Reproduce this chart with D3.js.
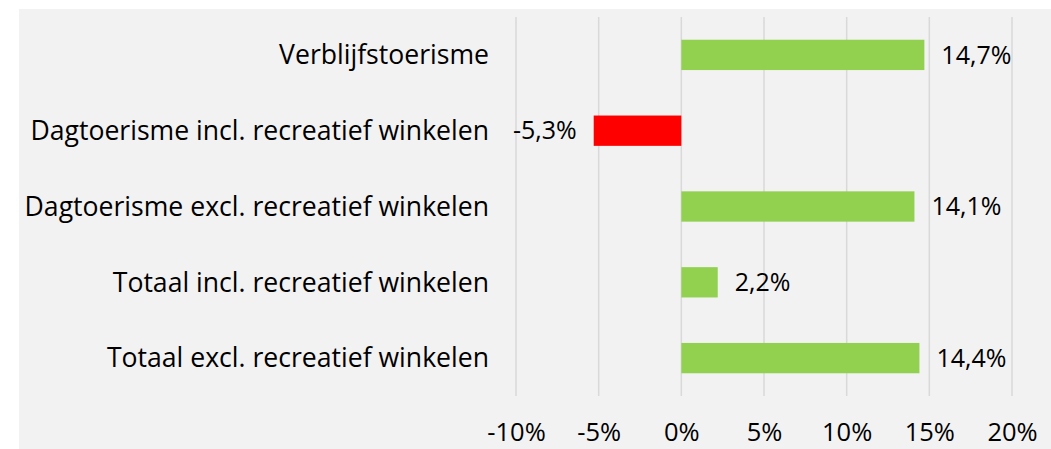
<!DOCTYPE html>
<html>
<head>
<meta charset="utf-8">
<script src="https://cdn.jsdelivr.net/npm/d3@7"></script>
<style>
  body { margin: 0; background: #ffffff; }
  svg { display: block; font-family: "Open Sans", sans-serif; }
</style>
</head>
<body>
<div id="chart"></div>
<script>
// chart data
const categories = [
  'Verblijfstoerisme',
  'Dagtoerisme incl. recreatief winkelen',
  'Dagtoerisme excl. recreatief winkelen',
  'Totaal incl. recreatief winkelen',
  'Totaal excl. recreatief winkelen'
];
const values = [14.7, -5.3, 14.1, 2.2, 14.4];
const ticks = [-10, -5, 0, 5, 10, 15, 20];

const width = 1051, height = 449;
const margin = { top: 17, right: 39, bottom: 53, left: 516 };

const svg = d3.select('#chart').append('svg')
  .attr('width', width)
  .attr('height', height);

// chart area background
svg.append('rect')
  .attr('x', 19).attr('y', 9)
  .attr('width', width - 19).attr('height', height - 9)
  .attr('fill', '#f2f2f2');

const x = d3.scaleLinear()
  .domain([-10, 20])
  .range([margin.left, width - margin.right]);

const y = d3.scaleBand()
  .domain(categories)
  .range([margin.top, height - margin.bottom])
  .paddingInner(0.6)
  .paddingOuter(0.3);

// comma decimals, plain hyphen for negatives
const fmt = d => d.toFixed(1).replace('.', ',') + '%';

// gridlines
svg.append('g')
  .selectAll('line')
  .data(ticks)
  .join('line')
  .attr('x1', d => x(d)).attr('x2', d => x(d))
  .attr('y1', margin.top).attr('y2', height - margin.bottom)
  .attr('stroke', '#d9d9d9')
  .attr('stroke-width', 1.5);

// x axis labels
const xAxis = svg.append('g')
  .attr('transform', `translate(0,${height - margin.bottom})`)
  .call(d3.axisBottom(x).tickValues(ticks).tickSize(0).tickPadding(27)
    .tickFormat(d => d + '%'));
xAxis.select('.domain').remove();
xAxis.selectAll('text')
  .attr('font-family', '"Open Sans", sans-serif')
  .attr('font-size', 25.5)
  .attr('fill', '#000');

// category labels
svg.append('g')
  .selectAll('text')
  .data(categories)
  .join('text')
  .attr('x', 489)
  .attr('y', d => y(d) + y.bandwidth() / 2)
  .attr('dy', '0.35em')
  .attr('text-anchor', 'end')
  .attr('font-size', 26.6)
  .attr('fill', '#000')
  .text(d => d);

// bars
svg.append('g')
  .selectAll('rect')
  .data(values)
  .join('rect')
  .attr('x', d => x(Math.min(0, d)))
  .attr('y', (d, i) => y(categories[i]))
  .attr('width', d => Math.abs(x(d) - x(0)))
  .attr('height', y.bandwidth())
  .attr('fill', d => d < 0 ? '#ff0000' : '#92d050');

// value labels
svg.append('g')
  .selectAll('text')
  .data(values)
  .join('text')
  .attr('x', d => d < 0 ? x(d) - 17 : x(d) + 17)
  .attr('y', (d, i) => y(categories[i]) + y.bandwidth() / 2)
  .attr('dy', '0.35em')
  .attr('text-anchor', d => d < 0 ? 'end' : 'start')
  .attr('font-size', 25)
  .attr('fill', '#000')
  .text(fmt);
</script>
</body>
</html>
